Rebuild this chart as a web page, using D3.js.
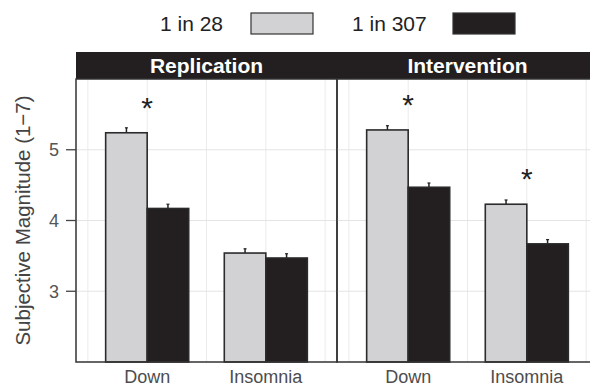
<!DOCTYPE html>
<html>
<head>
<meta charset="utf-8">
<script src="https://cdn.jsdelivr.net/npm/d3@7"></script>
<style>
  body { margin: 0; background: #fff; }
  svg { display: block; font-family: "Liberation Sans", Arial, sans-serif; }
</style>
</head>
<body>
<div id="chart"></div>
<script>
// values
const panels = ['Replication', 'Intervention'];
const categories = ['Down', 'Insomnia'];
const groups = ['1 in 28', '1 in 307'];
const replication28 = [5.24, 3.54];
const replication307 = [4.17, 3.47];
const intervention28 = [5.28, 4.23];
const intervention307 = [4.47, 3.67];
const replicationErr28 = [0.07, 0.06];
const replicationErr307 = [0.06, 0.06];
const interventionErr28 = [0.06, 0.06];
const interventionErr307 = [0.06, 0.06];
const replicationStar = [true, false];
const interventionStar = [true, true];
const yTicks = [3, 4, 5];

const width = 590, height = 387;
const colors = {'1 in 28': '#d2d2d4', '1 in 307': '#231f20'};

const panelData = [
    {name: panels[0], values: [replication28, replication307], errs: [replicationErr28, replicationErr307], stars: replicationStar},
    {name: panels[1], values: [intervention28, intervention307], errs: [interventionErr28, interventionErr307], stars: interventionStar}
];

const svg = d3.select('#chart')
    .append('svg')
    .attr('width', width)
    .attr('height', height);

const plotLeft = 76, panelW = 261, stripTop = 52, stripH = 27;
const plotTop = stripTop + stripH, plotBottom = 362;

const y = d3.scaleLinear().domain([2, 6]).range([plotBottom, plotTop]);

// ggplot-like discrete scale: 0.6 units of expansion each side
const x = d3.scaleBand().domain(categories).range([0, panelW]).paddingInner(0.3).paddingOuter(0.25);
const xg = d3.scaleBand().domain(groups).range([0, x.bandwidth()]);
const step = x.step();

// legend
const legend = svg.append('g').attr('font-size', 21).attr('fill', '#222');
const legendItems = [{label: groups[0], tx: 160, bx: 251}, {label: groups[1], tx: 352, bx: 453}];
legendItems.forEach(d => {
    legend.append('text').attr('x', d.tx).attr('y', 24).attr('dy', '0.35em').text(d.label);
    legend.append('rect')
        .attr('x', d.bx).attr('y', 13).attr('width', 62).attr('height', 21)
        .attr('fill', colors[d.label])
        .attr('stroke', '#333').attr('stroke-width', 1.2);
});

panelData.forEach((p, i) => {
    const g = svg.append('g').attr('transform', `translate(${plotLeft + i * panelW},0)`);

    // grid
    const gridV = [];
    for (let k = 0; k <= 4; k++) gridV.push((0.1 + 0.5 * k) * step);
    g.selectAll('.gv').data(gridV).enter().append('line')
        .attr('x1', d => d).attr('x2', d => d)
        .attr('y1', plotTop).attr('y2', plotBottom)
        .attr('stroke', '#ebebeb').attr('stroke-width', 1);
    g.selectAll('.gh').data(yTicks).enter().append('line')
        .attr('x1', 0).attr('x2', panelW)
        .attr('y1', d => y(d)).attr('y2', d => y(d))
        .attr('stroke', '#e4e4e4').attr('stroke-width', 1.2);

    // error bars drawn first so only the upper half shows
    groups.forEach((grp, j) => {
        categories.forEach((cat, c) => {
            const cx = x(cat) + xg(grp) + xg.bandwidth() / 2;
            const v = p.values[j][c], e = p.errs[j][c];
            g.append('line')
                .attr('x1', cx).attr('x2', cx)
                .attr('y1', y(v - e)).attr('y2', y(v + e))
                .attr('stroke', '#222').attr('stroke-width', 1.5);
            g.append('line')
                .attr('x1', cx - 1.5).attr('x2', cx + 1.5)
                .attr('y1', y(v + e)).attr('y2', y(v + e))
                .attr('stroke', '#222').attr('stroke-width', 1.2);
        });
    });

    // bars
    groups.forEach((grp, j) => {
        g.selectAll('.bar' + j).data(categories).enter().append('rect')
            .attr('x', d => x(d) + xg(grp))
            .attr('y', (d, c) => y(p.values[j][c]))
            .attr('width', xg.bandwidth())
            .attr('height', (d, c) => plotBottom - y(p.values[j][c]))
            .attr('fill', colors[grp])
            .attr('stroke', '#2b2b2b').attr('stroke-width', 1.6);
    });

    // significance stars
    categories.forEach((cat, c) => {
        if (!p.stars[c]) return;
        const top = d3.max(p.values, s => s[c]);
        g.append('text')
            .attr('x', x(cat) + x.bandwidth() / 2)
            .attr('y', y(top + 0.38) + 12)
            .attr('text-anchor', 'middle')
            .attr('font-size', 30).attr('fill', '#222')
            .text('*');
    });

    // strip
    g.append('rect').attr('x', 0).attr('y', stripTop).attr('width', panelW).attr('height', stripH)
        .attr('fill', '#231f20');
    g.append('text').attr('x', panelW / 2).attr('y', stripTop + stripH / 2).attr('dy', '0.36em')
        .attr('text-anchor', 'middle').attr('font-size', 21).attr('font-weight', 'bold')
        .attr('fill', '#fff').text(p.name);

    // panel border
    g.append('rect').attr('x', 0).attr('y', plotTop).attr('width', panelW).attr('height', plotBottom - plotTop)
        .attr('fill', 'none').attr('stroke', '#333').attr('stroke-width', 1.5);

    // x labels
    g.selectAll('.xl').data(categories).enter().append('text')
        .attr('x', d => x(d) + x.bandwidth() / 2)
        .attr('y', 383)
        .attr('text-anchor', 'middle')
        .attr('font-size', 18).attr('fill', '#4d4d4d')
        .text(d => d);
});

// y axis
const yAxis = svg.append('g');
yAxis.selectAll('.yt').data(yTicks).enter().append('line')
    .attr('x1', plotLeft - 10).attr('x2', plotLeft)
    .attr('y1', d => y(d)).attr('y2', d => y(d))
    .attr('stroke', '#444').attr('stroke-width', 1.3);
yAxis.selectAll('.yl').data(yTicks).enter().append('text')
    .attr('x', plotLeft - 17).attr('y', d => y(d)).attr('dy', '0.36em')
    .attr('text-anchor', 'end').attr('font-size', 18).attr('fill', '#555')
    .text(d => d);

svg.append('text')
    .attr('transform', `translate(23,${(plotTop + plotBottom) / 2}) rotate(-90)`)
    .attr('dy', '0.36em')
    .attr('text-anchor', 'middle').attr('font-size', 20.5).attr('fill', '#444')
    .text('Subjective Magnitude (1\u22127)');
</script>
</body>
</html>
